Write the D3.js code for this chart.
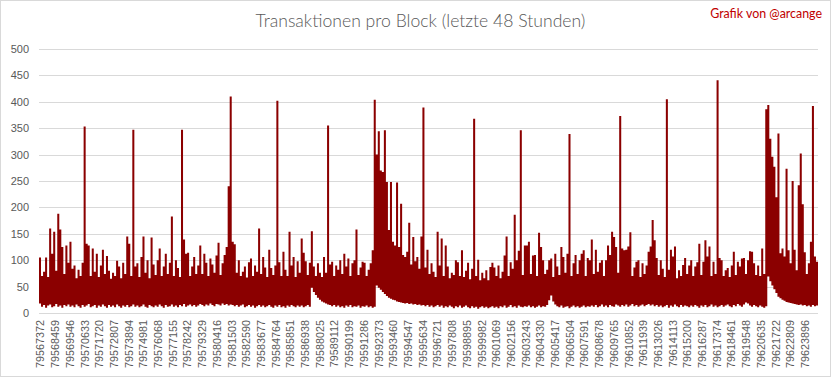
<!DOCTYPE html>
<html>
<head>
<meta charset="utf-8">
<script src="https://cdn.jsdelivr.net/npm/d3@7"></script>
<style>
  html, body { margin: 0; padding: 0; background: #fff; }
  svg { display: block; }
</style>
</head>
<body>
<svg id="chart" width="833" height="379"></svg>
<script>
// ---------- DATA ----------
const chartTitle = "Transaktionen pro Block (letzte 48 Stunden)";
const creditText = "Grafik von @arcange";

// first block of the window and how many blocks each drawn column summarises
const blockStart = 79567300;
const blocksPerColumn = 150;

// per-column maximum of transactions per block
const txMax = [
  105, 70, 78, 105, 68, 160, 112, 154, 80, 188, 158, 125, 74, 128, 95, 135,
  84, 90, 66, 82, 70, 95, 353, 131, 128, 70, 122, 78, 112, 68, 90, 120,
  74, 108, 80, 65, 76, 70, 99, 88, 66, 95, 74, 145, 131, 70, 347, 88,
  94, 68, 106, 145, 76, 100, 66, 143, 92, 72, 100, 122, 70, 88, 112, 74,
  95, 183, 70, 100, 85, 68, 347, 139, 112, 114, 70, 88, 106, 74, 90, 128,
  74, 112, 95, 70, 103, 92, 76, 109, 133, 72, 94, 110, 125, 240, 410, 135,
  130, 76, 100, 70, 78, 88, 67, 96, 103, 70, 90, 78, 160, 74, 106, 86,
  68, 120, 85, 72, 90, 402, 96, 70, 116, 82, 70, 154, 90, 106, 68, 98,
  76, 141, 114, 98, 72, 95, 155, 88, 70, 94, 76, 68, 106, 76, 355, 92,
  97, 70, 90, 82, 100, 74, 112, 88, 103, 70, 94, 100, 158, 72, 86, 97,
  95, 70, 82, 94, 119, 404, 300, 344, 270, 267, 346, 248, 157, 248, 135, 128,
  247, 125, 207, 110, 106, 116, 171, 92, 144, 98, 106, 84, 145, 389, 86, 120,
  74, 94, 78, 68, 154, 90, 141, 70, 128, 88, 66, 76, 72, 100, 96, 70,
  119, 68, 80, 95, 64, 84, 368, 70, 101, 62, 76, 66, 81, 62, 87, 95,
  86, 70, 90, 66, 78, 109, 145, 70, 96, 84, 186, 100, 118, 346, 72, 128,
  128, 135, 74, 109, 110, 70, 152, 125, 100, 74, 82, 100, 103, 68, 112, 88,
  72, 125, 106, 76, 112, 339, 70, 94, 110, 74, 100, 112, 119, 70, 104, 100,
  139, 74, 120, 78, 95, 100, 70, 100, 128, 110, 154, 144, 125, 76, 373, 122,
  119, 120, 126, 153, 70, 86, 97, 100, 68, 94, 74, 90, 116, 126, 176, 138,
  104, 72, 100, 84, 68, 405, 82, 120, 107, 126, 66, 81, 70, 91, 104, 74,
  90, 100, 70, 88, 96, 131, 72, 97, 138, 107, 126, 70, 97, 74, 441, 104,
  100, 70, 81, 85, 68, 90, 116, 72, 97, 88, 103, 104, 74, 100, 117, 116,
  94, 72, 90, 70, 122, 74, 386, 394, 330, 296, 277, 219, 340, 113, 122, 107,
  273, 119, 94, 250, 120, 81, 242, 302, 206, 115, 74, 94, 135, 392, 107, 97
];

// per-column minimum of transactions per block
const txMin = [
  18, 12, 15, 10, 14, 16, 11, 13, 17, 12, 14, 10, 15, 13, 16, 12,
  14, 11, 16, 13, 10, 15, 12, 14, 17, 11, 13, 15, 10, 14, 12, 16,
  13, 10, 15, 12, 14, 11, 16, 13, 10, 14, 12, 15, 11, 13, 16, 12,
  14, 11, 13, 16, 12, 10, 15, 13, 11, 14, 12, 16, 13, 10, 15, 12,
  13, 16, 12, 14, 11, 15, 13, 17, 12, 14, 16, 13, 15, 12, 14, 17,
  15, 13, 16, 14, 18, 15, 13, 17, 16, 14, 18, 15, 17, 14, 16, 15,
  13, 15, 12, 14, 16, 11, 13, 15, 12, 14, 10, 13, 15, 12, 14, 11,
  13, 15, 12, 10, 14, 12, 15, 11, 13, 10, 14, 12, 15, 13, 11, 14,
  12, 14, 11, 13, 15, 12, 48, 40, 34, 29, 25, 22, 20, 18, 16, 15,
  13, 15, 12, 14, 11, 13, 10, 14, 12, 15, 11, 13, 12, 14, 10, 13,
  12, 14, 11, 13, 10, 12, 52, 48, 44, 40, 36, 32, 29, 27, 25, 24,
  22, 21, 20, 19, 18, 19, 17, 18, 16, 17, 15, 16, 14, 15, 13, 15,
  12, 14, 11, 13, 15, 12, 14, 10, 13, 11, 14, 12, 9, 13, 11, 14,
  10, 12, 14, 11, 9, 13, 10, 12, 8, 11, 13, 10, 12, 9, 11, 13,
  10, 12, 9, 13, 11, 14, 10, 12, 15, 11, 13, 10, 14, 12, 11, 13,
  12, 14, 11, 13, 10, 12, 14, 11, 13, 12, 15, 24, 33, 22, 16, 13,
  11, 14, 10, 12, 13, 9, 12, 14, 11, 13, 10, 12, 14, 11, 13, 12,
  14, 12, 15, 11, 13, 16, 12, 14, 11, 15, 13, 12, 16, 14, 12, 15,
  13, 16, 12, 14, 17, 13, 15, 12, 14, 16, 13, 15, 17, 14, 16, 13,
  15, 12, 14, 11, 13, 15, 10, 14, 12, 16, 13, 11, 15, 12, 14, 13,
  11, 14, 12, 15, 13, 10, 14, 12, 15, 11, 13, 16, 12, 14, 11, 13,
  15, 12, 14, 16, 13, 11, 15, 13, 17, 14, 12, 16, 20, 18, 14, 12,
  15, 13, 11, 14, 12, 10, 13, 69, 60, 52, 45, 38, 31, 28, 25, 23,
  21, 20, 19, 18, 17, 16, 15, 16, 14, 15, 13, 14, 12, 15, 13, 14
];

// category labels shown on the x axis
const xTickLabels = [
  79567372, 79568459, 79569546, 79570633, 79571720, 79572807, 79573894, 79574981,
  79576068, 79577155, 79578242, 79579329, 79580416, 79581503, 79582590, 79583677,
  79584764, 79585851, 79586938, 79588025, 79589112, 79590199, 79591286, 79592373,
  79593460, 79594547, 79595634, 79596721, 79597808, 79598895, 79599982, 79601069,
  79602156, 79603243, 79604330, 79605417, 79606504, 79607591, 79608678, 79609765,
  79610852, 79611939, 79613026, 79614113, 79615200, 79616287, 79617374, 79618461,
  79619548, 79620635, 79621722, 79622809, 79623896
];

const yTicks = [0, 50, 100, 150, 200, 250, 300, 350, 400, 450, 500];

// ---------- DRAW ----------
const svg = d3.select("#chart");
const plot = { left: 39, right: 818, top: 49, bottom: 313 };
const gray = "#595959";
const gridColor = "#d9d9d9";
const lineColor = "#8b0000";
const fontFam = "'Liberation Sans', Arial, sans-serif";

svg.append("rect")
  .attr("x", 0.5).attr("y", 0.5)
  .attr("width", 830).attr("height", 376)
  .attr("fill", "#fff").attr("stroke", gridColor);

const columns = txMax.map((v, i) => ({
  block: blockStart + i * blocksPerColumn,
  max: v,
  min: txMin[i]
}));
// closing point so the last column gets its full width
const last = columns[columns.length - 1];
const stepData = columns.concat([{ block: last.block + blocksPerColumn, max: last.max, min: last.min }]);

const x = d3.scaleLinear()
  .domain([blockStart, blockStart + txMax.length * blocksPerColumn])
  .range([plot.left, plot.right]);
const y = d3.scaleLinear().domain([0, 500]).range([plot.bottom, plot.top]);

// grid + y labels
const yAxis = d3.axisLeft(y).tickValues(yTicks)
  .tickSize(-(plot.right - plot.left)).tickPadding(10)
  .tickFormat(d3.format("d"));
const gy = svg.append("g").attr("transform", `translate(${plot.left},0)`).call(yAxis);
gy.select(".domain").remove();
gy.selectAll(".tick line").attr("stroke", gridColor).attr("stroke-width", 1)
  .attr("shape-rendering", "crispEdges");
gy.selectAll(".tick text").attr("fill", gray)
  .style("font-family", fontFam).style("font-size", "11px");

// data: per-column band between minimum and maximum (dense line chart look)
const band = d3.area()
  .x(d => x(d.block))
  .y0(d => y(d.min))
  .y1(d => y(d.max))
  .curve(d3.curveStepAfter);
svg.append("path")
  .datum(stepData)
  .attr("d", band)
  .attr("fill", lineColor);

// x axis labels
const xAxis = d3.axisBottom(x).tickValues(xTickLabels).tickSize(0).tickPadding(0)
  .tickFormat(d3.format("d"));
const gx = svg.append("g").attr("transform", `translate(0,${plot.bottom})`).call(xAxis);
gx.select(".domain").remove();
gx.selectAll(".tick text")
  .attr("fill", gray)
  .style("font-family", fontFam).style("font-size", "10.8px")
  .attr("text-anchor", "end")
  .attr("dy", null)
  .attr("y", 0)
  .attr("transform", "translate(4,7) rotate(-90)");

// title
const title = svg.append("text")
  .attr("x", 420.5).attr("y", 26.5)
  .attr("text-anchor", "middle")
  .attr("fill", gray)
  .style("font-family", "Lato, 'Open Sans', sans-serif")
  .style("font-weight", "300")
  .style("font-size", "18px")
  .text(chartTitle);
{
  const w = title.node().getComputedTextLength();
  title.style("font-size", (18 * 330 / w).toFixed(2) + "px");
}

const credit = svg.append("text")
  .attr("x", 822).attr("y", 18)
  .attr("text-anchor", "end")
  .attr("fill", "#c00000")
  .style("font-family", "Lato, 'Open Sans', sans-serif")
  .style("font-size", "12px")
  .text(creditText);
{
  const w = credit.node().getComputedTextLength();
  credit.style("font-size", (12 * 112 / w).toFixed(2) + "px");
}
</script>
</body>
</html>
